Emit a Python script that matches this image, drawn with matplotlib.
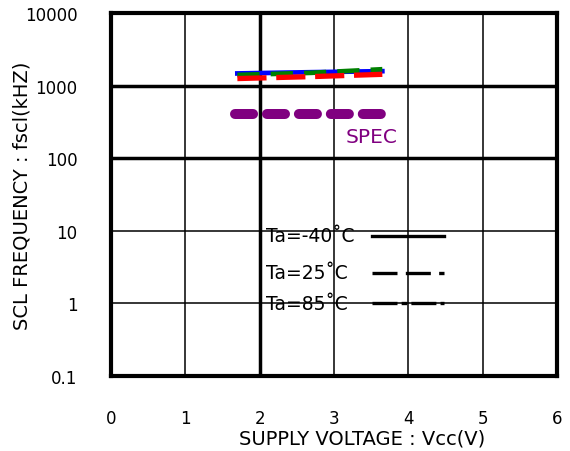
import matplotlib
matplotlib.use("Agg")
import matplotlib.pyplot as plt
from matplotlib.patches import Rectangle

# ---------------------------
# Dados
# ---------------------------
vcc = [1.7, 2.7, 3.65]
freq_m40 = [1470, 1530, 1580]
freq_25 = [1250, 1330, 1430]
freq_85 = [1400, 1500, 1680]

spec_vcc = [1.67, 3.69]
spec_freq = [400, 400]

x_ticks = [0, 1, 2, 3, 4, 5, 6]
y_ticks = [0.1, 1, 10, 100, 1000, 10000]
y_tick_labels = ['0.1', '1', '10', '100', '1000', '10000']
legend_labels = ['Ta=-40˚C', 'Ta=25˚C', 'Ta=85˚C']

plt.rcParams['font.family'] = ['DejaVu Sans']
plt.rcParams['lines.scale_dashes'] = False

# ---------------------------
# Figura
# ---------------------------
fig = plt.figure(figsize=(5.7, 4.52), dpi=100)
ax = fig.add_axes([111 / 570, 1 - 377 / 452, 446 / 570, 363 / 452])

ax.set_yscale('log')
ax.set_xlim(0, 6)
ax.set_ylim(0.1, 10000)
ax.set_xticks(x_ticks)
ax.set_xticklabels([str(t) for t in x_ticks])
ax.set_yticks(y_ticks)
ax.set_yticklabels(y_tick_labels)
ax.minorticks_off()
ax.tick_params(axis='both', length=0, labelsize=12)
ax.tick_params(axis='x', pad=24)
ax.tick_params(axis='y', pad=24)

ax.grid(True, color='black', linewidth=1.1, zorder=0.5)
ax.axvline(2, color='black', linewidth=2.5, zorder=0.6)
for yv in [100, 1000]:
    ax.axhline(yv, color='black', linewidth=2.5, zorder=0.6)

for s in ax.spines.values():
    s.set_linewidth(3)
    s.set_zorder(5)

# curvas medidas
ax.plot(vcc, freq_m40, color='#0000ff', linewidth=3.4, zorder=3)
ax.plot(vcc, freq_85, color='#008000', linewidth=3.4, zorder=3.1,
        dashes=(16, 8))
ax.plot(vcc, freq_25, color='#ff0000', linewidth=3.8, zorder=3.2,
        dashes=(21, 7))

# especificação
ax.plot(spec_vcc, spec_freq, color='#800080', linewidth=7.2, zorder=3,
        dashes=(13, 10), dash_capstyle='round')
ax.text(3.5, 196, 'SPEC', color='#800080', fontsize=14.5,
        ha='center', va='center')

# legenda desenhada à mão
ax.add_patch(Rectangle((0.34, 0.149), 0.297, 0.292, transform=ax.transAxes,
                       facecolor='white', edgecolor='none', zorder=1.5))
styles = [dict(linestyle='-'), dict(dashes=(18, 6)), dict(dashes=(18, 3, 4, 3))]
legend_y = [0.386, 0.284, 0.201]
for lab, yy, st in zip(legend_labels, legend_y, styles):
    ax.plot([0.585, 0.747], [yy, yy], transform=ax.transAxes, color='black',
            linewidth=2.4, zorder=4, **st)
    ax.text(0.348, yy, lab, transform=ax.transAxes, fontsize=13.5,
            ha='left', va='center', zorder=4)

fig.text(362 / 570, 1 - 439 / 452, 'SUPPLY VOLTAGE : Vcc(V)', fontsize=14,
         ha='center', va='center')
fig.text(22 / 570, 1 - 196 / 452, 'SCL FREQUENCY : fscl(kHZ)', fontsize=14,
         ha='center', va='center', rotation=90)

fig.savefig('out.png', dpi=100)
